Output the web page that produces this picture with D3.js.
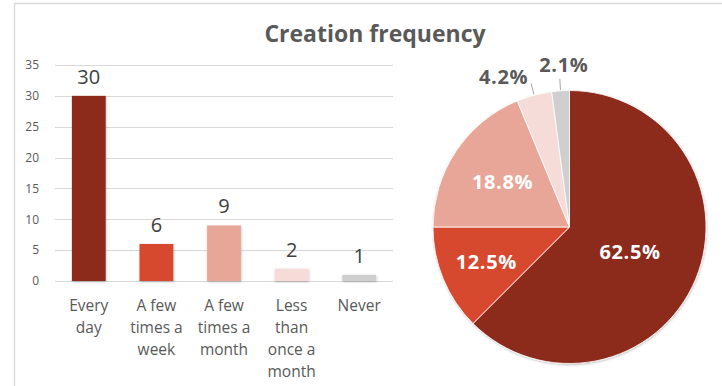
<!DOCTYPE html>
<html>
<head>
<meta charset="utf-8">
<script src="https://cdn.jsdelivr.net/npm/d3@7"></script>
<style>
  html, body { margin: 0; padding: 0; background: #fff; }
  svg { display: block; font-family: "Open Sans", "Noto Sans", sans-serif; }
</style>
</head>
<body>
<svg id="chart" width="722" height="386"></svg>
<script>
// ---- data ----
const title = "Creation frequency";
const categories = ["Every day", "A few times a week", "A few times a month", "Less than once a month", "Never"];
const categoryLines = [["Every", "day"], ["A few", "times a", "week"], ["A few", "times a", "month"], ["Less", "than", "once a", "month"], ["Never"]];
const counts = [30, 6, 9, 2, 1];
const yTicks = [0, 5, 10, 15, 20, 25, 30, 35];
const colors = ["#8c2b1e", "#d6482e", "#e8a698", "#f6dcd8", "#cfcfcf"];

// ---- drawing ----
const svg = d3.select("#chart");
const defs = svg.append("defs");
const f = defs.append("filter").attr("id", "shadow").attr("x", "-20%").attr("y", "-20%").attr("width", "140%").attr("height", "140%");
f.append("feDropShadow").attr("dx", 0.5).attr("dy", 1).attr("stdDeviation", 1.2).attr("flood-color", "#000").attr("flood-opacity", 0.25);

// outer frame
svg.append("path").attr("d", "M14.5,386 L14.5,3.5 L722,3.5").attr("fill", "none").attr("stroke", "#dcdcdc").attr("stroke-width", 1.5);

// title
svg.append("text").attr("x", 375).attr("y", 42).attr("text-anchor", "middle")
  .attr("font-size", 23).attr("font-weight", 700).attr("fill", "#595959").text(title);

// ---- bar chart ----
const x = d3.scaleBand().domain(categories).range([55, 393]).paddingInner(0.5).paddingOuter(0.25);
const y = d3.scaleLinear().domain([0, 35]).range([281, 65]);

const grid = svg.append("g");
grid.selectAll("line").data(yTicks).join("line")
  .attr("x1", 55).attr("x2", 393)
  .attr("y1", d => Math.round(y(d)) + 0.5).attr("y2", d => Math.round(y(d)) + 0.5)
  .attr("stroke", "#d9d9d9").attr("stroke-width", 1);

const yAxis = svg.append("g").attr("transform", "translate(39,0)")
  .call(d3.axisLeft(y).tickValues(yTicks).tickSize(0).tickPadding(0));
yAxis.select(".domain").remove();
yAxis.selectAll("text").attr("font-size", 12).attr("fill", "#595959").attr("font-family", "'Open Sans', sans-serif");

svg.append("g").selectAll("rect").data(counts).join("rect")
  .attr("x", (d, i) => x(categories[i]))
  .attr("y", d => y(d))
  .attr("width", x.bandwidth())
  .attr("height", d => y(0) - y(d))
  .attr("fill", (d, i) => colors[i])
  .attr("filter", "url(#shadow)");

svg.append("g").selectAll("text").data(counts).join("text")
  .attr("x", (d, i) => x(categories[i]) + x.bandwidth() / 2)
  .attr("y", d => y(d) - 12)
  .attr("text-anchor", "middle")
  .attr("font-size", 20).attr("fill", "#404040")
  .text(d => d);

const xAxis = svg.append("g").attr("transform", "translate(0,281)")
  .call(d3.axisBottom(x).tickSize(0).tickFormat(() => ""));
xAxis.select(".domain").remove();
xAxis.selectAll(".tick text").each(function(d, i) {
  const t = d3.select(this).attr("y", 0).attr("dy", null)
    .attr("font-size", 15.5).attr("fill", "#595959").attr("font-family", "'Open Sans', sans-serif");
  categoryLines[i].forEach((line, k) => {
    t.append("tspan").attr("x", 0).attr("y", 30 + k * 22).text(line);
  });
});

// ---- pie chart ----
const cx = 569.5, cy = 227, R = 136.5;
const total = d3.sum(counts);
const pie = d3.pie().sort(null).value(d => d);
const arcs = pie(counts);
const arc = d3.arc().innerRadius(0).outerRadius(R);
const pg = svg.append("g").attr("transform", `translate(${cx},${cy})`);
pg.append("g").attr("filter", "url(#shadow)").selectAll("path").data(arcs).join("path")
  .attr("d", arc)
  .attr("fill", (d, i) => colors[i])
  .attr("stroke", "#fff").attr("stroke-width", 0.8);

const pct = d3.format(".1%");
const labelR = [0.48, 0.66, 0.59];
const polar = (a, r) => [Math.sin(a) * r, -Math.cos(a) * r];
arcs.forEach((a, i) => {
  const mid = (a.startAngle + a.endAngle) / 2;
  const txt = pct(a.data / total);
  if (i < 3) {
    const [lx, ly] = polar(mid, R * labelR[i]);
    pg.append("text").attr("x", lx).attr("y", ly).attr("dy", "0.36em")
      .attr("text-anchor", "middle").attr("font-size", 20).attr("font-weight", 700)
      .attr("letter-spacing", 0.6).attr("fill", "#fff").text(txt);
  } else {
    const p0 = polar(mid, R + 1), p1 = polar(mid, R + 12);
    pg.append("line").attr("x1", p0[0]).attr("y1", p0[1]).attr("x2", p1[0]).attr("y2", p1[1])
      .attr("stroke", "#a6a6a6").attr("stroke-width", 1);
    const t = pg.append("text").attr("font-size", 20).attr("font-weight", 700)
      .attr("letter-spacing", 0.6).attr("fill", "#595959").text(txt);
    if (i === 3) t.attr("x", p1[0] - 3).attr("y", p1[1]).attr("text-anchor", "end");
    else t.attr("x", p1[0] + 4).attr("y", p1[1] - 7).attr("text-anchor", "middle");
  }
});
</script>
</body>
</html>
